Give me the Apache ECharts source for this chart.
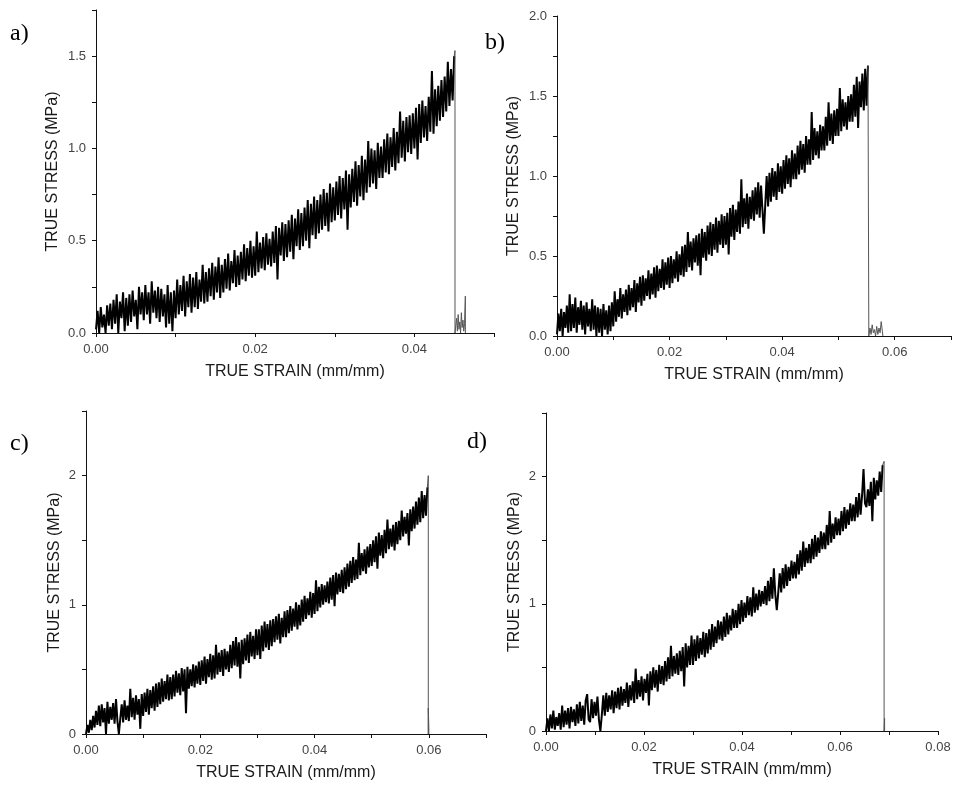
<!DOCTYPE html>
<html><head><meta charset="utf-8">
<script src="https://cdn.jsdelivr.net/npm/echarts@6/dist/echarts.min.js"></script>
<style>html,body{margin:0;padding:0;background:#fff}#c{width:954px;height:785px}</style>
</head><body><div id="c"></div>
<script>
// ---------- Panel labels / axis texts ----------
const panelLabels = ['a)', 'b)', 'c)', 'd)'];
const xTitle = 'TRUE STRAIN (mm/mm)';
const yTitle = 'TRUE STRESS (MPa)';

// ---------- Panel a (strain step 0.0002) ----------
const A_STEP = 0.0002;
const aStress = [
0.02,0.12,0.00,0.14,0.03,0.10,0.00,0.15,0.04,0.16,
0.02,0.18,0.05,0.21,0.00,0.17,0.08,0.22,0.01,0.19,
0.04,0.21,0.06,0.23,0.09,0.18,0.02,0.25,0.10,0.22,
0.07,0.26,0.10,0.22,0.05,0.28,0.11,0.23,0.08,0.25,
0.06,0.24,0.09,0.21,0.03,0.26,0.05,0.22,0.01,0.23,
0.08,0.29,0.10,0.26,0.12,0.31,0.09,0.28,0.14,0.32,
0.11,0.30,0.14,0.33,0.13,0.29,0.17,0.37,0.16,0.33,
0.17,0.35,0.20,0.38,0.18,0.36,0.22,0.41,0.19,0.37,
0.22,0.40,0.24,0.43,0.23,0.39,0.27,0.45,0.25,0.42,
0.26,0.44,0.29,0.48,0.28,0.46,0.31,0.50,0.30,0.47,
0.31,0.55,0.33,0.49,0.35,0.52,0.34,0.54,0.37,0.51,
0.36,0.55,0.38,0.58,0.29,0.57,0.42,0.60,0.39,0.59,
0.41,0.61,0.44,0.64,0.40,0.62,0.47,0.67,0.45,0.65,
0.47,0.68,0.50,0.72,0.46,0.70,0.53,0.74,0.51,0.72,
0.54,0.75,0.56,0.78,0.58,0.76,0.55,0.81,0.60,0.79,
0.61,0.82,0.64,0.85,0.62,0.84,0.67,0.88,0.56,0.86,
0.68,0.89,0.71,0.93,0.69,0.91,0.74,0.96,0.72,0.94,
0.76,1.04,0.79,1.00,0.81,0.99,0.78,1.03,0.84,1.01,
0.84,1.05,0.87,1.08,0.86,1.06,0.90,1.11,0.88,1.09,
0.92,1.20,0.95,1.15,0.93,1.17,0.98,1.18,0.97,1.19,
1.00,1.22,0.94,1.24,1.03,1.26,1.06,1.23,1.04,1.28,
1.09,1.42,1.08,1.32,1.12,1.34,1.15,1.37,1.17,1.39,
1.20,1.47,1.23,1.43,1.26,1.50
];
const aTailStrain = [0.0451,0.0451,0.0453,0.0454,0.0455,0.0456,0.0457,0.0458,0.0459,0.0460,0.0461,0.0462,0.0463,0.0464,0.0464];
const aTailStress = [1.53,0.00,0.08,0.01,0.10,0.02,0.06,0.00,0.11,0.03,0.07,0.01,0.05,0.20,0.00];

// ---------- Panel b (strain step 0.00025) ----------
const B_STEP = 0.00025;
const bStress = [
0.01,0.14,0.03,0.17,0.00,0.15,0.05,0.19,0.02,0.26,
0.03,0.20,0.05,0.24,0.02,0.18,0.07,0.22,0.04,0.19,
0.01,0.21,0.06,0.17,0.03,0.23,0.04,0.19,0.00,0.18,
0.02,0.17,0.00,0.20,0.04,0.16,0.01,0.19,0.03,0.21,
0.06,0.28,0.09,0.23,0.12,0.30,0.11,0.26,0.15,0.29,
0.13,0.32,0.16,0.30,0.18,0.35,0.15,0.33,0.21,0.37,
0.19,0.38,0.22,0.36,0.25,0.41,0.23,0.39,0.26,0.43,
0.24,0.44,0.28,0.42,0.30,0.48,0.29,0.46,0.32,0.49,
0.30,0.50,0.33,0.48,0.36,0.53,0.34,0.51,0.38,0.56,
0.37,0.57,0.40,0.65,0.43,0.59,0.41,0.61,0.46,0.63,
0.44,0.64,0.38,0.67,0.49,0.65,0.47,0.69,0.51,0.71,
0.50,0.70,0.54,0.74,0.52,0.72,0.57,0.76,0.55,0.75,
0.57,0.77,0.51,0.80,0.62,0.82,0.60,0.79,0.65,0.84,
0.64,0.98,0.68,0.86,0.70,0.89,0.67,0.87,0.73,0.91,
0.72,0.93,0.76,0.96,0.74,0.94,0.79,0.64,0.82,1.00,
0.81,1.02,0.84,1.05,0.87,1.03,0.85,1.08,0.90,1.06,
0.89,1.10,0.92,1.13,0.95,1.11,0.93,1.16,0.98,1.14,
0.98,1.19,1.01,1.22,1.04,1.20,1.02,1.25,1.07,1.23,
1.07,1.40,1.10,1.30,1.13,1.28,1.11,1.32,1.16,1.31,
1.16,1.37,1.19,1.46,1.22,1.39,1.20,1.41,1.25,1.42,
1.25,1.55,1.28,1.48,1.31,1.46,1.29,1.50,1.34,1.51,
1.34,1.57,1.37,1.62,1.30,1.59,1.43,1.64,1.41,1.67,
1.44,1.69
];
const bTailStrain = [0.0554,0.0554,0.0556,0.0558,0.0560,0.0562,0.0564,0.0566,0.0568,0.0570,0.0572,0.0574,0.0576,0.0578,0.0579];
const bTailStress = [1.70,0.00,0.05,0.01,0.07,0.02,0.04,0.00,0.06,0.01,0.05,0.02,0.09,0.03,0.00];

// ---------- Panel c (strain step 0.00025) ----------
const C_STEP = 0.00025;
const cStress = [
0.00,0.07,0.01,0.11,0.03,0.14,0.05,0.18,0.07,0.22,
0.06,0.23,0.09,0.20,0.00,0.25,0.08,0.21,0.11,0.24,
0.08,0.27,0.10,0.00,0.12,0.23,0.09,0.26,0.11,0.22,
0.10,0.35,0.13,0.28,0.11,0.30,0.15,0.27,0.04,0.31,
0.14,0.32,0.17,0.35,0.15,0.34,0.20,0.37,0.18,0.39,
0.21,0.40,0.23,0.43,0.25,0.41,0.27,0.46,0.26,0.44,
0.27,0.46,0.29,0.49,0.32,0.47,0.30,0.51,0.33,0.50,
0.16,0.52,0.35,0.50,0.37,0.54,0.36,0.53,0.39,0.56,
0.38,0.57,0.41,0.60,0.39,0.58,0.44,0.62,0.42,0.61,
0.43,0.69,0.46,0.63,0.48,0.65,0.45,0.66,0.50,0.64,
0.48,0.69,0.51,0.72,0.53,0.75,0.52,0.71,0.43,0.73,
0.54,0.74,0.57,0.77,0.55,0.79,0.60,0.76,0.58,0.81,
0.61,0.81,0.58,0.84,0.64,0.87,0.67,0.85,0.65,0.88,
0.68,0.89,0.71,0.91,0.73,0.93,0.70,0.90,0.75,0.95,
0.75,0.96,0.78,0.99,0.80,0.97,0.83,1.02,0.81,1.00,
0.84,1.04,0.87,1.07,0.89,1.05,0.92,1.10,0.90,1.09,
0.93,1.19,0.95,1.14,0.98,1.16,1.00,1.15,1.02,1.18,
1.01,1.21,1.04,1.23,0.99,1.25,1.08,1.24,1.10,1.27,
1.09,1.29,1.12,1.32,1.14,1.34,1.17,1.37,1.19,1.35,
1.20,1.48,1.23,1.40,1.26,1.43,1.24,1.45,1.29,1.47,
1.30,1.50,1.33,1.53,1.28,1.56,1.38,1.54,1.36,1.58,
1.40,1.66,1.43,1.59,1.45,1.62,1.42,1.64,1.47,1.65,
1.50,1.73,1.53,1.68,1.55,1.71,1.46,1.74,1.57,1.76,
1.59,1.80,1.62,1.83,1.64,1.88,1.67,1.85,1.69,1.91
];
const cTailStrain = [0.0599,0.0599,0.0599,0.0600,0.0600];
const cTailStress = [2.00,0.00,0.20,0.05,0.00];

// ---------- Panel d (strain step 0.0003) ----------
const D_STEP = 0.0003;
const dStress = [
0.00,0.10,0.00,0.13,0.02,0.16,0.01,0.11,0.04,0.14,
0.01,0.20,0.03,0.16,0.05,0.18,0.02,0.19,0.07,0.17,
0.04,0.21,0.06,0.23,0.08,0.20,0.05,0.24,0.29,0.09,
0.07,0.25,0.10,0.23,0.12,0.27,0.09,0.00,0.13,0.28,
0.12,0.30,0.15,0.28,0.17,0.32,0.14,0.31,0.18,0.34,
0.17,0.35,0.20,0.33,0.22,0.38,0.19,0.36,0.24,0.39,
0.22,0.49,0.25,0.40,0.27,0.43,0.24,0.41,0.30,0.45,
0.20,0.47,0.32,0.50,0.34,0.48,0.31,0.52,0.37,0.51,
0.36,0.55,0.39,0.58,0.41,0.67,0.43,0.59,0.45,0.61,
0.44,0.63,0.47,0.66,0.35,0.69,0.50,0.67,0.52,0.75,
0.52,0.72,0.55,0.75,0.57,0.73,0.60,0.78,0.58,0.77,
0.61,0.80,0.64,0.84,0.66,0.82,0.69,0.87,0.72,0.86,
0.71,0.90,0.74,0.93,0.76,0.91,0.79,0.96,0.81,0.95,
0.81,1.00,0.84,1.03,0.86,1.01,0.89,1.06,0.91,1.05,
0.90,1.13,0.93,1.08,0.95,1.11,0.98,1.10,1.00,1.14,
0.99,1.18,1.02,1.21,1.04,1.28,1.07,0.95,1.09,1.24,
1.09,1.28,1.12,1.31,1.14,1.29,1.18,1.34,1.20,1.33,
1.20,1.39,1.23,1.42,1.26,1.49,1.29,1.44,1.32,1.47,
1.32,1.51,1.35,1.54,1.37,1.52,1.40,1.57,1.43,1.56,
1.43,1.62,1.46,1.73,1.48,1.63,1.51,1.68,1.54,1.67,
1.54,1.73,1.57,1.76,1.59,1.74,1.62,1.79,1.65,1.78,
1.65,1.84,1.68,1.87,1.70,1.85,2.06,1.79,1.76,1.90,
1.77,1.96,1.65,1.99,1.82,1.97,1.85,2.04,1.88,2.09
];
const dTailStrain = [0.0690,0.0690,0.0691,0.0691,0.0692];
const dTailStress = [2.12,0.00,0.10,0.00,0.00];

// ---------- Axis scales (tick labels) ----------
const xMax = [0.05, 0.07, 0.07, 0.08];
const yMax = [1.75, 2.0, 2.5, 2.5];
const yMajor = [0.5, 0.5, 1, 1];
const yMinor = [0.25, 0.25, 0.5, 0.5];
const yDecimals = [1, 1, 0, 0];
const X_MAJOR = 0.02, X_MINOR = 0.01;

// ---------- Build ----------
const panels = [
  {step: A_STEP, s: aStress, ts: aTailStrain, tv: aTailStress},
  {step: B_STEP, s: bStress, ts: bTailStrain, tv: bTailStress},
  {step: C_STEP, s: cStress, ts: cTailStrain, tv: cTailStress},
  {step: D_STEP, s: dStress, ts: dTailStrain, tv: dTailStress}
];
const grids = [
  {left: 96, top: 10, width: 398, height: 323},
  {left: 557, top: 16, width: 400, height: 320},
  {left: 86, top: 411, width: 400, height: 323},
  {left: 546, top: 413, width: 392, height: 318}
];
const yNameGap = [35, 35, 23, 23];
const labelPos = [[10, 36], [485, 45], [10, 446], [467, 444]];

function fmt(major, dec) {
  return function (v) {
    const k = v / major;
    return Math.abs(k - Math.round(k)) < 1e-6 ? v.toFixed(dec) : '';
  };
}
const FONT = '"Liberation Sans", Arial, sans-serif';
const xAxes = [], yAxes = [], series = [];
panels.forEach((p, i) => {
  xAxes.push({
    type: 'value', gridIndex: i, min: 0, max: xMax[i], interval: X_MINOR,
    name: xTitle, nameLocation: 'middle', nameGap: 31,
    nameTextStyle: {fontFamily: FONT, fontSize: 16, color: '#1a1a1a'},
    axisLine: {show: true, onZero: false, lineStyle: {color: '#111', width: 1}},
    axisTick: {show: true, length: 4, lineStyle: {color: '#111'}},
    axisLabel: {formatter: fmt(X_MAJOR, 2), margin: 10, fontFamily: FONT, fontSize: 13, color: '#444'},
    splitLine: {show: false}
  });
  yAxes.push({
    type: 'value', gridIndex: i, min: 0, max: yMax[i], interval: yMinor[i],
    name: yTitle, nameLocation: 'middle', nameGap: yNameGap[i],
    nameTextStyle: {fontFamily: FONT, fontSize: 16, color: '#1a1a1a'},
    axisLine: {show: true, lineStyle: {color: '#111', width: 1}},
    axisTick: {show: true, length: 4, lineStyle: {color: '#111'}},
    axisLabel: {formatter: fmt(yMajor[i], yDecimals[i]), margin: 10, fontFamily: FONT, fontSize: 13, color: '#444'},
    splitLine: {show: false}
  });
  const main = p.s.map((v, k) => [k * p.step, v]);
  series.push({
    type: 'line', xAxisIndex: i, yAxisIndex: i, data: main, symbol: 'none',
    lineStyle: {color: '#000', width: 2, join: 'bevel'}, silent: true, animation: false
  });
  const tail = [main[main.length - 1]].concat(p.ts.map((x, k) => [x, p.tv[k]]));
  series.push({
    type: 'line', xAxisIndex: i, yAxisIndex: i, data: tail, symbol: 'none',
    lineStyle: {color: '#555', width: 1}, silent: true, animation: false
  });
});

const chart = echarts.init(document.getElementById('c'), null, {renderer: 'canvas'});
chart.setOption({
  backgroundColor: '#fff',
  animation: false,
  grid: grids.map(g => Object.assign({containLabel: false}, g)),
  xAxis: xAxes,
  yAxis: yAxes,
  series: series,
  graphic: panelLabels.map((t, i) => ({
    type: 'text', left: labelPos[i][0], top: labelPos[i][1] - 14,
    style: {text: t, font: '24px "Liberation Serif", "Times New Roman", serif', fill: '#000'}
  }))
});
</script>
</body></html>
